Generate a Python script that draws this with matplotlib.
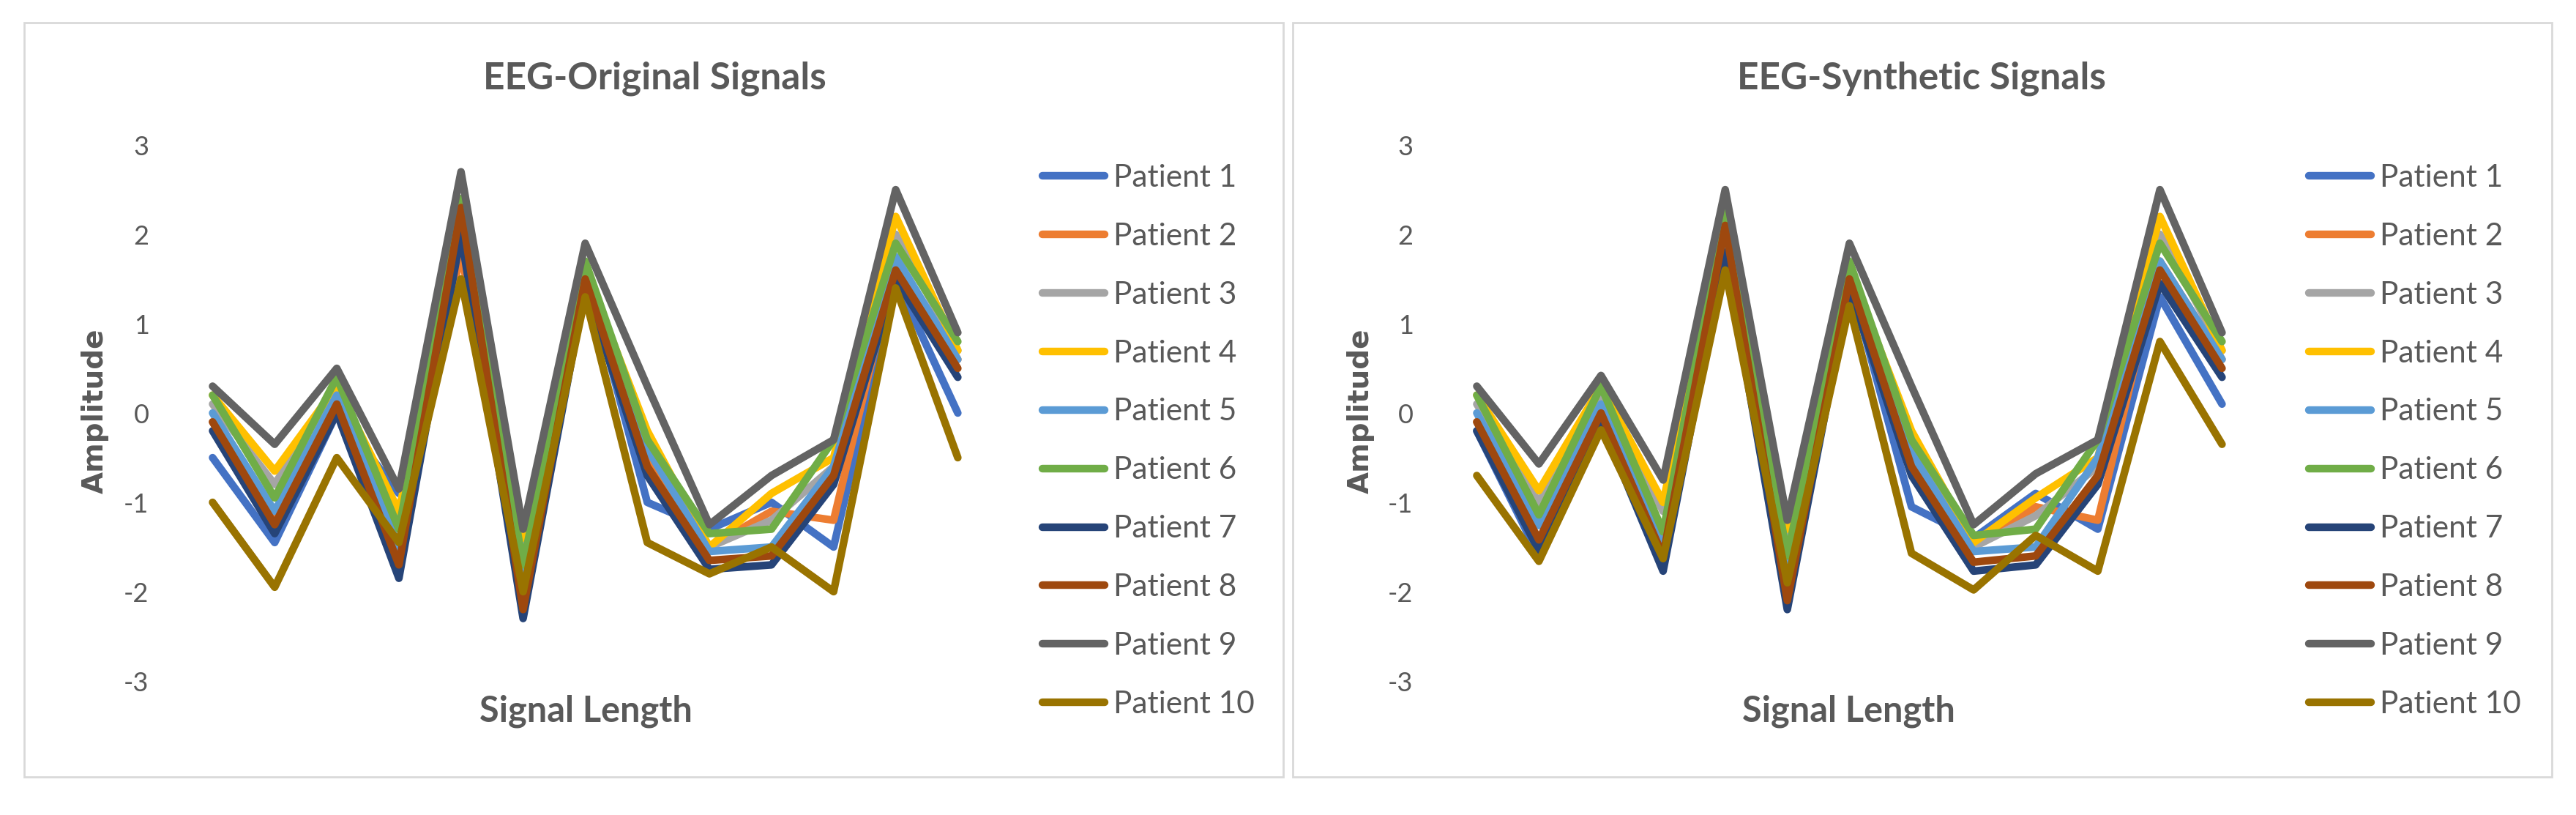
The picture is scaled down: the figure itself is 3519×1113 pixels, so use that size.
import matplotlib
matplotlib.use("Agg")
import matplotlib.pyplot as plt
from matplotlib.patches import Rectangle

# ===== Data =====
x_points = list(range(1, 14))
patients = ["Patient 1", "Patient 2", "Patient 3", "Patient 4", "Patient 5",
            "Patient 6", "Patient 7", "Patient 8", "Patient 9", "Patient 10"]
colors = ["#4472C4", "#ED7D31", "#A5A5A5", "#FFC000", "#5B9BD5",
          "#70AD47", "#264478", "#9E480E", "#636363", "#997300"]

# EEG - original signals
orig_p1 = [-0.5, -1.45, 0.0, -0.9, 1.9, -2.0, 1.6, -1.0, -1.3, -1.0, -1.5, 1.5, 0.0]
orig_p2 = [-0.1, -1.2, 0.1, -1.6, 1.8, -1.9, 1.5, -0.5, -1.5, -1.1, -1.2, 1.7, 0.6]
orig_p3 = [0.1, -0.8, 0.3, -1.2, 2.1, -1.6, 1.6, -0.3, -1.5, -1.2, -0.6, 2.0, 0.7]
orig_p4 = [0.2, -0.65, 0.3, -1.1, 2.2, -1.4, 1.6, -0.2, -1.5, -0.9, -0.5, 2.2, 0.7]
orig_p5 = [0.0, -1.1, 0.2, -1.5, 2.0, -1.8, 1.6, -0.4, -1.55, -1.5, -0.6, 1.75, 0.6]
orig_p6 = [0.2, -0.95, 0.4, -1.3, 2.4, -1.7, 1.7, -0.3, -1.35, -1.3, -0.3, 1.9, 0.8]
orig_p7 = [-0.2, -1.35, 0.0, -1.85, 2.0, -2.3, 1.4, -0.7, -1.75, -1.7, -0.8, 1.5, 0.4]
orig_p8 = [-0.1, -1.25, 0.1, -1.7, 2.3, -2.2, 1.5, -0.6, -1.65, -1.6, -0.7, 1.6, 0.5]
orig_p9 = [0.3, -0.35, 0.5, -0.85, 2.7, -1.3, 1.9, 0.3, -1.25, -0.7, -0.3, 2.5, 0.9]
orig_p10 = [-1.0, -1.95, -0.5, -1.45, 1.5, -2.0, 1.3, -1.45, -1.8, -1.5, -2.0, 1.4, -0.5]

# EEG - synthetic signals
syn_p1 = [-0.2, -1.6, 0.0, -1.7, 1.9, -2.0, 1.5, -1.05, -1.4, -0.9, -1.3, 1.3, 0.1]
syn_p2 = [-0.1, -1.2, 0.1, -1.5, 1.9, -1.8, 1.5, -0.5, -1.5, -1.05, -1.2, 1.7, 0.6]
syn_p3 = [0.1, -1.0, 0.2, -1.1, 2.0, -1.5, 1.6, -0.3, -1.5, -1.15, -0.6, 2.0, 0.7]
syn_p4 = [0.2, -0.87, 0.3, -1.0, 2.2, -1.3, 1.6, -0.2, -1.45, -0.95, -0.5, 2.2, 0.7]
syn_p5 = [0.0, -1.26, 0.1, -1.44, 2.0, -1.7, 1.6, -0.45, -1.55, -1.5, -0.5, 1.7, 0.6]
syn_p6 = [0.2, -1.14, 0.3, -1.33, 2.3, -1.6, 1.7, -0.3, -1.37, -1.3, -0.3, 1.9, 0.8]
syn_p7 = [-0.2, -1.54, -0.1, -1.77, 1.8, -2.2, 1.4, -0.7, -1.77, -1.7, -0.8, 1.45, 0.4]
syn_p8 = [-0.1, -1.42, 0.0, -1.6, 2.1, -2.1, 1.5, -0.6, -1.67, -1.6, -0.7, 1.6, 0.5]
syn_p9 = [0.3, -0.57, 0.42, -0.75, 2.5, -1.2, 1.9, 0.3, -1.25, -0.68, -0.3, 2.5, 0.9]
syn_p10 = [-0.7, -1.66, -0.19, -1.63, 1.6, -1.9, 1.2, -1.57, -1.98, -1.37, -1.77, 0.8, -0.35]

original = [orig_p1, orig_p2, orig_p3, orig_p4, orig_p5,
            orig_p6, orig_p7, orig_p8, orig_p9, orig_p10]
synthetic = [syn_p1, syn_p2, syn_p3, syn_p4, syn_p5,
             syn_p6, syn_p7, syn_p8, syn_p9, syn_p10]

TEXT = "#595959"
plt.rcParams["font.family"] = ["Lato", "DejaVu Sans"]
plt.rcParams["axes.unicode_minus"] = False

fig = plt.figure(figsize=(35.19, 11.13), dpi=100)
fig.patch.set_facecolor("white")

# panel borders (like two Excel chart boxes)
for x0 in [33 / 3519, 1766 / 3519]:
    fig.patches.append(Rectangle((x0, 52 / 1113), 1720 / 3519, 1030 / 1113,
                                 transform=fig.transFigure, fill=False,
                                 edgecolor="#D9D9D9", linewidth=2))


def draw_panel(left, data, title, title_x, xlabel_x, ylabel_x, legend_x):
    ax = fig.add_axes([left, 0.1644, 0.3134, 0.6577])
    for vals, name, c in zip(data, patients, colors):
        ax.plot(x_points, vals, color=c, linewidth=7.5, label=name,
                solid_joinstyle="round", solid_capstyle="round")
    ax.set_xlim(0.5, 13.5)
    ax.set_ylim(-3, 3)
    ax.set_yticks([-3, -2, -1, 0, 1, 2, 3])
    ax.set_xticks([])
    for s in ax.spines.values():
        s.set_visible(False)
    ax.tick_params(axis="y", length=0, pad=32, labelsize=26, labelcolor=TEXT)

    fig.text(title_x, 0.904, title, ha="center", va="center",
             fontsize=37, fontweight="bold", color=TEXT)
    fig.text(xlabel_x, 0.127, "Signal Length", ha="center", va="center",
             fontsize=35, fontweight="bold", color=TEXT)
    fig.text(ylabel_x, 0.496, "Amplitude", ha="center", va="center",
             rotation=90, fontsize=28, fontweight="bold", color=TEXT,
             family="DejaVu Sans")

    leg = fig.legend(handles=ax.get_lines(), loc="upper left",
                     bbox_to_anchor=(legend_x, 0.799), frameon=False,
                     fontsize=30.5, handlelength=2.0, handletextpad=0.3,
                     labelspacing=0.99, borderpad=0, borderaxespad=0)
    for t in leg.get_texts():
        t.set_color(TEXT)
    return ax


draw_panel(248 / 3519, original, "EEG-Original Signals",
           894 / 3519, 800 / 3519, 130 / 3519, 1424 / 3519)
draw_panel(1975 / 3519, synthetic, "EEG-Synthetic Signals",
           2625 / 3519, 2525 / 3519, 1859 / 3519, 3154 / 3519)

fig.savefig("out.png", dpi=100, facecolor="white")
